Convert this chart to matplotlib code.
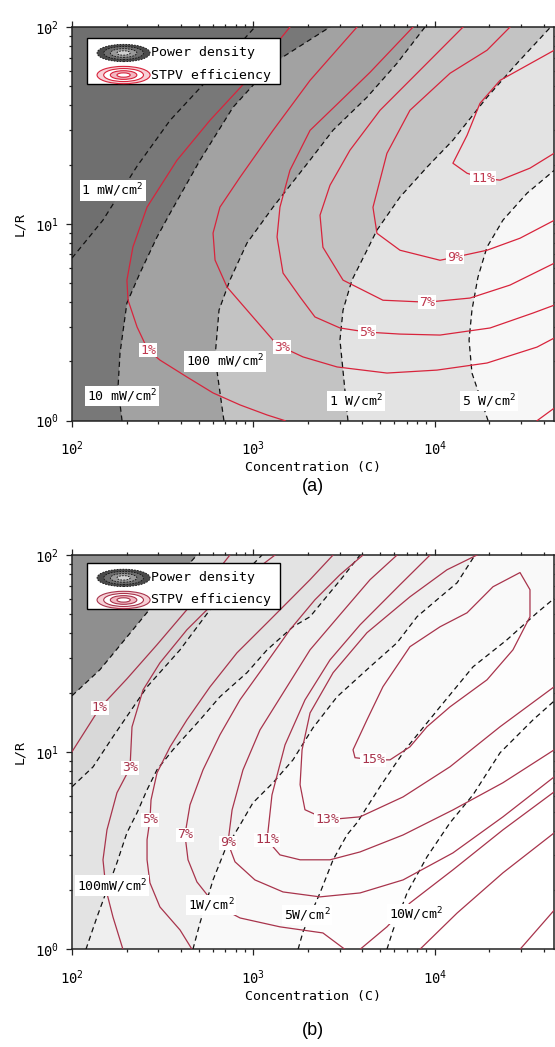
import numpy as np
import matplotlib
matplotlib.use("Agg")
import matplotlib.pyplot as plt
from matplotlib.patches import Rectangle, Ellipse
from matplotlib.ticker import LogLocator, NullFormatter, FuncFormatter

MONO = "DejaVu Sans Mono"
plt.rcParams["font.family"] = [MONO]
plt.rcParams["mathtext.fontset"] = "custom"
plt.rcParams["mathtext.rm"] = MONO
plt.rcParams["mathtext.it"] = MONO
plt.rcParams["mathtext.bf"] = MONO

# Axis extent, in decades: log10(C) and log10(L/R)
U0, U1 = 2.0, 4.66
V0, V1 = 0.0, 2.0

# ---------------- panel (a) ----------------
# power-density isolines (log10 C, log10 L/R)
a_pd_1mW_u = [2.000, 2.171, 2.359, 2.541, 2.745, 3.009]
a_pd_1mW_v = [0.826, 1.019, 1.293, 1.526, 1.729, 2.000]
a_pd_10mW_u = [2.276, 2.254, 2.265, 2.303, 2.375, 2.469, 2.541, 2.706, 2.888, 3.109, 3.423]
a_pd_10mW_v = [0.000, 0.171, 0.344, 0.598, 0.750, 0.933, 1.054, 1.323, 1.592, 1.816, 2.000]
a_pd_100mW_u = [2.838, 2.789, 2.811, 2.871, 2.965, 3.109, 3.313, 3.440, 3.627, 3.793, 3.947]
a_pd_100mW_v = [0.000, 0.323, 0.562, 0.714, 0.902, 1.085, 1.324, 1.476, 1.643, 1.816, 2.000]
a_pd_1W_u = [3.522, 3.478, 3.495, 3.544, 3.627, 3.682, 3.809, 3.958, 4.101, 4.289, 4.455, 4.640]
a_pd_1W_v = [0.000, 0.410, 0.562, 0.714, 0.866, 0.968, 1.136, 1.288, 1.425, 1.643, 1.816, 2.000]
a_pd_5W_u = [4.295, 4.206, 4.190, 4.206, 4.239, 4.289, 4.377, 4.510, 4.660]
a_pd_5W_v = [0.000, 0.242, 0.410, 0.562, 0.729, 0.882, 1.019, 1.156, 1.272]

# STPV efficiency isolines (%)
a_eff_1_u = [3.202, 2.965, 2.761, 2.579, 2.414, 2.336, 2.303, 2.309, 2.359, 2.419, 2.485, 2.634, 2.778, 2.927, 3.076, 3.175]
a_eff_1_v = [2.000, 1.729, 1.526, 1.323, 1.085, 0.882, 0.714, 0.613, 0.476, 0.359, 0.308, 0.222, 0.141, 0.080, 0.029, 0.000]
a_eff_1b_u = [4.565, 4.660]
a_eff_1b_v = [0.000, 0.064]
a_eff_3_u = [3.572, 3.313, 3.109, 2.927, 2.816, 2.778, 2.789, 2.855, 2.965, 3.109, 3.158, 3.274, 3.462, 3.737, 4.013, 4.289, 4.565, 4.660]
a_eff_3_v = [2.000, 1.729, 1.475, 1.237, 1.085, 0.953, 0.816, 0.679, 0.562, 0.409, 0.374, 0.324, 0.273, 0.242, 0.257, 0.293, 0.374, 0.420]
a_eff_5_u = [3.881, 3.644, 3.467, 3.313, 3.202, 3.147, 3.131, 3.164, 3.258, 3.340, 3.478, 3.627, 3.809, 4.030, 4.306, 4.543, 4.660]
a_eff_5_v = [2.000, 1.770, 1.612, 1.475, 1.272, 1.085, 0.933, 0.750, 0.628, 0.527, 0.471, 0.450, 0.440, 0.435, 0.471, 0.547, 0.587]
a_eff_7_u = [4.157, 3.919, 3.699, 3.533, 3.423, 3.368, 3.384, 3.495, 3.715, 3.958, 4.195, 4.416, 4.660]
a_eff_7_v = [2.000, 1.780, 1.577, 1.374, 1.196, 1.044, 0.881, 0.714, 0.612, 0.602, 0.623, 0.689, 0.800]
a_eff_9_u = [4.416, 4.289, 4.085, 3.864, 3.737, 3.660, 3.682, 3.809, 4.030, 4.113, 4.289, 4.471, 4.660]
a_eff_9_v = [2.000, 1.882, 1.765, 1.577, 1.358, 1.084, 0.952, 0.866, 0.815, 0.831, 0.866, 0.927, 1.018]
a_eff_11_u = [4.660, 4.361, 4.250, 4.179, 4.101, 4.179, 4.267, 4.361, 4.526, 4.660]
a_eff_11_v = [1.882, 1.729, 1.612, 1.450, 1.308, 1.257, 1.232, 1.222, 1.283, 1.359]

# ---------------- panel (b) ----------------
b_pd_1mW_u = [2.000, 2.154, 2.336, 2.485, 2.689]
b_pd_1mW_v = [1.286, 1.418, 1.621, 1.788, 2.000]
b_pd_10mW_u = [2.000, 2.116, 2.226, 2.414, 2.596, 2.778, 3.048]
b_pd_10mW_v = [0.824, 0.925, 1.078, 1.331, 1.519, 1.743, 2.000]
b_pd_100mW_u = [2.077, 2.138, 2.248, 2.303, 2.359, 2.414, 2.469, 2.557, 2.706, 2.816, 2.965, 3.076, 3.219, 3.313, 3.495, 3.589]
b_pd_100mW_v = [0.000, 0.164, 0.439, 0.591, 0.693, 0.809, 0.911, 1.012, 1.164, 1.281, 1.403, 1.519, 1.636, 1.687, 1.890, 2.000]
b_pd_1W_u = [2.667, 2.706, 2.778, 2.844, 2.927, 2.998, 3.109, 3.219, 3.329, 3.462, 3.644, 3.793, 3.903, 4.013, 4.124, 4.223]
b_pd_1W_v = [0.000, 0.134, 0.352, 0.504, 0.631, 0.743, 0.845, 0.961, 1.123, 1.281, 1.433, 1.555, 1.687, 1.773, 1.859, 2.000]
b_pd_5W_u = [3.247, 3.274, 3.368, 3.440, 3.517, 3.572, 3.699, 3.837, 4.030, 4.212, 4.399, 4.565, 4.660]
b_pd_5W_v = [0.000, 0.088, 0.286, 0.454, 0.581, 0.642, 0.825, 1.012, 1.230, 1.433, 1.570, 1.707, 1.780]
b_pd_10W_u = [3.737, 3.771, 3.848, 3.958, 4.085, 4.212, 4.361, 4.543, 4.660]
b_pd_10W_v = [0.000, 0.098, 0.286, 0.469, 0.642, 0.784, 0.997, 1.164, 1.260]

b_eff_1_u = [2.000, 2.154, 2.303, 2.469, 2.634, 2.871]
b_eff_1_v = [1.002, 1.225, 1.372, 1.545, 1.723, 2.000]
b_eff_3_u = [3.120, 2.816, 2.634, 2.485, 2.392, 2.331, 2.320, 2.248, 2.193, 2.171, 2.188, 2.226, 2.281]
b_eff_3_v = [2.000, 1.788, 1.621, 1.453, 1.316, 1.128, 0.920, 0.794, 0.606, 0.454, 0.301, 0.164, 0.000]
b_eff_3b_u = [4.471, 4.660]
b_eff_3b_v = [0.000, 0.199]
b_eff_5_u = [3.440, 3.313, 3.219, 3.076, 2.910, 2.761, 2.634, 2.541, 2.469, 2.436, 2.430, 2.414, 2.414, 2.430, 2.485, 2.596, 2.662]
b_eff_5_v = [2.000, 1.875, 1.788, 1.656, 1.504, 1.331, 1.164, 1.027, 0.895, 0.758, 0.657, 0.556, 0.454, 0.337, 0.215, 0.098, 0.000]
b_eff_5b_u = [3.919, 4.124, 4.377, 4.660]
b_eff_5b_v = [0.000, 0.184, 0.388, 0.591]
b_eff_7_u = [3.605, 3.478, 3.340, 3.202, 3.065, 2.927, 2.816, 2.723, 2.651, 2.623, 2.640, 2.689, 2.789, 2.927, 3.147, 3.384, 3.505]
b_eff_7_v = [2.000, 1.900, 1.773, 1.621, 1.443, 1.266, 1.088, 0.911, 0.733, 0.581, 0.454, 0.342, 0.226, 0.159, 0.114, 0.083, 0.000]
b_eff_7b_u = [3.589, 3.737, 3.864, 4.101, 4.377, 4.660]
b_eff_7b_v = [0.000, 0.114, 0.235, 0.403, 0.606, 0.799]
b_eff_9_u = [3.793, 3.644, 3.478, 3.313, 3.175, 3.037, 2.943, 2.883, 2.860, 2.899, 3.009, 3.164, 3.368, 3.589, 3.826, 4.101, 4.377, 4.660]
b_eff_9_v = [2.000, 1.875, 1.697, 1.519, 1.316, 1.113, 0.910, 0.707, 0.540, 0.444, 0.352, 0.291, 0.266, 0.286, 0.352, 0.489, 0.672, 0.875]
b_eff_11_u = [3.975, 3.809, 3.589, 3.423, 3.285, 3.175, 3.103, 3.076, 3.147, 3.258, 3.423, 3.589, 3.826, 4.101, 4.377, 4.660]
b_eff_11_v = [2.000, 1.849, 1.646, 1.468, 1.265, 1.037, 0.783, 0.555, 0.479, 0.454, 0.454, 0.494, 0.580, 0.707, 0.845, 1.012]
b_eff_13_u = [4.234, 4.068, 3.864, 3.627, 3.440, 3.313, 3.269, 3.258, 3.285, 3.407, 3.589, 3.826, 4.085, 4.361, 4.660]
b_eff_13_v = [2.000, 1.925, 1.788, 1.606, 1.403, 1.199, 1.012, 0.835, 0.708, 0.657, 0.672, 0.773, 0.926, 1.129, 1.332]
b_eff_15_u = [3.660, 3.561, 3.550, 3.627, 3.715, 3.864, 4.030, 4.179, 4.322, 4.471, 4.526, 4.526, 4.432, 4.289, 4.085, 3.958, 3.864, 3.754, 3.660]
b_eff_15_v = [0.961, 0.972, 1.012, 1.164, 1.332, 1.535, 1.636, 1.707, 1.839, 1.911, 1.824, 1.687, 1.519, 1.367, 1.230, 1.129, 1.027, 0.961, 0.961]


# ---------------- helpers ----------------
TOL = 0.01
CORNERS = [(U1, V1), (U1, V0), (U0, V0), (U0, V1)]


def boundary_param(u, v):
    """Clockwise position of a frame point, 0 at the top-left corner."""
    if abs(v - V1) < TOL:
        return (u - U0) / (U1 - U0)
    if abs(u - U1) < TOL:
        return 1 + (V1 - v) / (V1 - V0)
    if abs(v - V0) < TOL:
        return 2 + (U1 - u) / (U1 - U0)
    return 3 + (v - V0) / (V1 - V0)


def region_beyond(us, vs):
    """Polygon of the part of the frame lying to the lower right of an isoline."""
    t_end = boundary_param(us[-1], vs[-1])
    t_start = boundary_param(us[0], vs[0])
    if t_start <= t_end:
        t_start += 4
    pu, pv = list(us), list(vs)
    for k in range(1, 9):
        if t_end < k < t_start:
            cu, cv = CORNERS[(k - 1) % 4]
            pu.append(cu)
            pv.append(cv)
    return 10 ** np.array(pu), 10 ** np.array(pv)


def dec(a):
    return 10 ** np.asarray(a)


def style_axes(ax):
    ax.set_xscale("log")
    ax.set_yscale("log")
    ax.set_xlim(10 ** U0, 10 ** U1)
    ax.set_ylim(10 ** V0, 10 ** V1)
    fmt = FuncFormatter(lambda val, pos: r"$10^{%d}$" % int(round(np.log10(val))))
    for axis in (ax.xaxis, ax.yaxis):
        axis.set_major_locator(LogLocator(base=10, numticks=10))
        axis.set_minor_locator(LogLocator(base=10, subs=np.arange(2, 10), numticks=20))
        axis.set_major_formatter(fmt)
        axis.set_minor_formatter(NullFormatter())
    ax.tick_params(which="both", direction="out", top=True, right=True,
                   color="#222222", width=0.9)
    ax.tick_params(which="major", length=4.5, labelsize=10)
    ax.tick_params(which="minor", length=2.5)
    ax.tick_params(axis="x", which="major", pad=9)
    ax.tick_params(axis="y", which="major", pad=5)
    for s in ax.spines.values():
        s.set_linewidth(1.1)
        s.set_color("#222222")
    ax.text(0.5, -0.12, "Concentration (C)", transform=ax.transAxes,
            ha="center", va="center", fontsize=9.5)
    ax.text(-0.108, 0.5, "L/R", transform=ax.transAxes, rotation=90,
            ha="center", va="center", fontsize=9.5)


def draw_legend(ax, y_top, line_red):
    h = 0.118
    ax.add_patch(Rectangle((0.031, y_top - h), 0.40, h, transform=ax.transAxes,
                           fc="white", ec="black", lw=1.0, zorder=20))
    cx = 0.107
    r1 = y_top - 0.038
    r2 = y_top - 0.094
    # shaded-contour icon
    for scale, fc in [(1.0, "#4a4a4a"), (0.75, "#6e6e6e"), (0.5, "#9a9a9a"), (0.25, "#d0d0d0")]:
        ax.add_patch(Ellipse((cx, r1), 0.11 * scale, 0.044 * scale, transform=ax.transAxes,
                             fc=fc, ec="#111111", lw=0.6, ls=(0, (2, 1.5)), zorder=21))
    # line-contour icon
    for scale, fc in [(1.0, "#f7d0d6"), (0.75, "white"), (0.5, "#f3b8c2"), (0.25, "white")]:
        ax.add_patch(Ellipse((cx, r2), 0.11 * scale, 0.044 * scale, transform=ax.transAxes,
                             fc=fc, ec=line_red, lw=0.8, zorder=21))
    ax.text(0.163, r1, "Power density", transform=ax.transAxes, va="center",
            fontsize=9.5, zorder=22)
    ax.text(0.163, r2, "STPV efficiency", transform=ax.transAxes, va="center",
            fontsize=9.5, zorder=22)


BOX = dict(boxstyle="square,pad=0.12", fc="white", ec="none")


def power_label(ax, u, v, text):
    ax.text(10 ** u, 10 ** v, r"%s/cm$^{2}$" % text, ha="center", va="center",
            fontsize=9.5, color="black", bbox=BOX, zorder=15)


def eff_label(ax, us, vs, idx, level, color):
    ax.text(10 ** us[idx], 10 ** vs[idx], "%d%%" % level, ha="center", va="center",
            fontsize=9.5, color=color, bbox=dict(boxstyle="square,pad=0.05", fc="white", ec="none"),
            zorder=15)


DASH = (0, (4.2, 3.0))

fig = plt.figure(figsize=(5.55, 10.47), dpi=100)
ax_a = fig.add_axes([0.1297, 0.5982, 0.869, 0.3760])
ax_b = fig.add_axes([0.1297, 0.0933, 0.869, 0.3766])

# ---------- (a) ----------
RED_A = "#d8243c"
LAB_A = "#c0394f"
a_pd_lines = [(a_pd_1mW_u, a_pd_1mW_v), (a_pd_10mW_u, a_pd_10mW_v), (a_pd_100mW_u, a_pd_100mW_v),
              (a_pd_1W_u, a_pd_1W_v), (a_pd_5W_u, a_pd_5W_v)]
a_shades = ["#6f6f6f", "#787878", "#a2a2a2", "#c3c3c3", "#e3e3e3", "#f7f7f7"]
ax_a.add_patch(Rectangle((0, 0), 1, 1, transform=ax_a.transAxes, fc=a_shades[0], ec="none", zorder=0))
for (us, vs), shade in zip(a_pd_lines, a_shades[1:]):
    px, py = region_beyond(us, vs)
    ax_a.fill(px, py, color=shade, lw=0, zorder=1)
for us, vs in a_pd_lines:
    ax_a.plot(dec(us), dec(vs), color="#111111", lw=0.9, ls=DASH, zorder=5)

a_eff_lines = [(a_eff_1_u, a_eff_1_v, 1, 9), (a_eff_1b_u, a_eff_1b_v, 1, None),
               (a_eff_3_u, a_eff_3_v, 3, 10), (a_eff_5_u, a_eff_5_v, 5, 11),
               (a_eff_7_u, a_eff_7_v, 7, 9), (a_eff_9_u, a_eff_9_v, 9, 9),
               (a_eff_11_u, a_eff_11_v, 11, 6)]
for us, vs, lev, idx in a_eff_lines:
    ax_a.plot(dec(us), dec(vs), color=RED_A, lw=0.9, zorder=6)
    if idx is not None:
        eff_label(ax_a, us, vs, idx, lev, LAB_A)

power_label(ax_a, 2.225, 1.17, "1 mW")
power_label(ax_a, 2.276, 0.125, "10 mW")
power_label(ax_a, 2.844, 0.30, "100 mW")
power_label(ax_a, 3.566, 0.10, "1 W")
power_label(ax_a, 4.300, 0.10, "5 W")
style_axes(ax_a)
draw_legend(ax_a, 0.972, RED_A)
ax_a.text(0.5, -0.168, "(a)", transform=ax_a.transAxes, ha="center", va="center",
          fontsize=13, family="Liberation Sans")

# ---------- (b) ----------
RED_B = "#a8344c"
LAB_B = "#a8344c"
b_pd_lines = [(b_pd_1mW_u, b_pd_1mW_v), (b_pd_10mW_u, b_pd_10mW_v), (b_pd_100mW_u, b_pd_100mW_v),
              (b_pd_1W_u, b_pd_1W_v), (b_pd_5W_u, b_pd_5W_v), (b_pd_10W_u, b_pd_10W_v)]
b_shades = ["#8f8f8f", "#d8d8d8", "#e3e3e3", "#efefef", "#f9f9f9", "#fdfdfd", "#ffffff"]
ax_b.add_patch(Rectangle((0, 0), 1, 1, transform=ax_b.transAxes, fc=b_shades[0], ec="none", zorder=0))
for (us, vs), shade in zip(b_pd_lines, b_shades[1:]):
    px, py = region_beyond(us, vs)
    ax_b.fill(px, py, color=shade, lw=0, zorder=1)
for us, vs in b_pd_lines:
    ax_b.plot(dec(us), dec(vs), color="#111111", lw=0.9, ls=DASH, zorder=5)

b_eff_lines = [(b_eff_1_u, b_eff_1_v, 1, 1), (b_eff_3_u, b_eff_3_v, 3, 6),
               (b_eff_3b_u, b_eff_3b_v, 3, None), (b_eff_5_u, b_eff_5_v, 5, 10),
               (b_eff_5b_u, b_eff_5b_v, 5, None), (b_eff_7_u, b_eff_7_v, 7, 9),
               (b_eff_7b_u, b_eff_7b_v, 7, None),
               (b_eff_9_u, b_eff_9_v, 9, 8), (b_eff_11_u, b_eff_11_v, 11, 7),
               (b_eff_13_u, b_eff_13_v, 13, 9), (b_eff_15_u, b_eff_15_v, 15, 0)]
for us, vs, lev, idx in b_eff_lines:
    ax_b.plot(dec(us), dec(vs), color=RED_B, lw=0.9, zorder=6)
    if idx is not None:
        eff_label(ax_b, us, vs, idx, lev, LAB_B)

power_label(ax_b, 2.221, 0.322, "100mW")
power_label(ax_b, 2.767, 0.225, "1W")
power_label(ax_b, 3.296, 0.174, "5W")
power_label(ax_b, 3.897, 0.179, "10W")
style_axes(ax_b)
draw_legend(ax_b, 0.980, RED_B)
ax_b.text(0.5, -0.207, "(b)", transform=ax_b.transAxes, ha="center", va="center",
          fontsize=13, family="Liberation Sans")

fig.savefig("out.png", dpi=100, facecolor="white")
